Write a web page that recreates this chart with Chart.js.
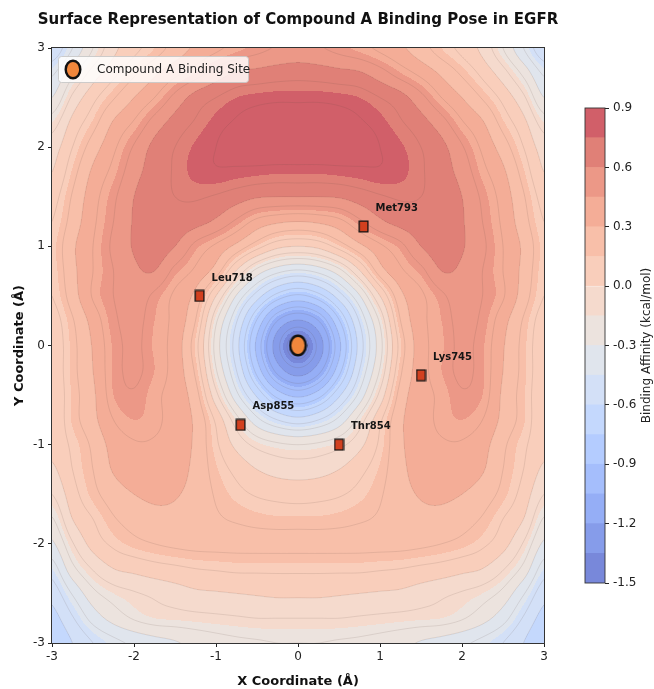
<!DOCTYPE html>
<html><head><meta charset="utf-8">
<script src="https://cdn.jsdelivr.net/npm/chart.js@4.4.1/dist/chart.umd.min.js"></script>
<style>
html,body{margin:0;padding:0;background:#fff;width:654px;height:689px;overflow:hidden}
#main{position:absolute;left:0;top:0;width:596px;height:689px}
#cbar{position:absolute;left:560px;top:0;width:94px;height:689px}
</style></head><body>
<canvas id="main" width="596" height="689"></canvas>
<canvas id="cbar" width="94" height="689"></canvas>
<script>
// ---------------- DATA ----------------
const chartTitle = 'Surface Representation of Compound A Binding Pose in EGFR';
const xAxisTitle = 'X Coordinate (\u00C5)';
const yAxisTitle = 'Y Coordinate (\u00C5)';
const colorbarTitle = 'Binding Affinity (kcal/mol)';
const axisTicks = [-3, -2, -1, 0, 1, 2, 3];
const colorbarTicks = [-1.5, -1.2, -0.9, -0.6, -0.3, 0.0, 0.3, 0.6, 0.9];
const fillLevels = [-1.5,-1.35,-1.2,-1.05,-0.9,-0.75,-0.6,-0.45,-0.3,-0.15,0,0.15,0.3,0.45,0.6,0.75,0.9];
const lineLevels = [-1.4,-1.3,-1.2,-1.1,-1.0,-0.9,-0.8,-0.7,-0.6,-0.5,-0.4,-0.3,-0.2,-0.1,0,0.1,0.2,0.3,0.4,0.5,0.6,0.7,0.8];

// surface samples (kcal/mol) on a 0.25 grid: columns x = -3..3, rows y = 3..-3
const gridX = [-3,-2.75,-2.5,-2.25,-2,-1.75,-1.5,-1.25,-1,-0.75,-0.5,-0.25,0,0.25,0.5,0.75,1,1.25,1.5,1.75,2,2.25,2.5,2.75,3];
const gridY = [3,2.75,2.5,2.25,2,1.75,1.5,1.25,1,0.75,0.5,0.25,0,-0.25,-0.5,-0.75,-1,-1.25,-1.5,-1.75,-2,-2.25,-2.5,-2.75,-3];
const zY300  = [-0.58,-0.40,-0.20,-0.03,0.07,0.15,0.24,0.32,0.38,0.43,0.47,0.51,0.53,0.51,0.47,0.43,0.38,0.32,0.24,0.15,0.07,-0.03,-0.20,-0.40,-0.58];
const zY275  = [-0.42,-0.23,-0.06,0.07,0.18,0.28,0.37,0.45,0.54,0.61,0.63,0.65,0.66,0.65,0.63,0.61,0.54,0.45,0.37,0.28,0.18,0.07,-0.06,-0.23,-0.42];
const zY250  = [-0.30,-0.08,0.07,0.19,0.30,0.40,0.53,0.64,0.70,0.75,0.77,0.78,0.78,0.78,0.77,0.75,0.70,0.64,0.53,0.40,0.30,0.19,0.07,-0.08,-0.30];
const zY225  = [-0.15,0.03,0.16,0.31,0.41,0.54,0.64,0.71,0.77,0.81,0.84,0.86,0.86,0.86,0.84,0.81,0.77,0.71,0.64,0.54,0.41,0.31,0.16,0.03,-0.15];
const zY200  = [-0.05,0.10,0.25,0.38,0.51,0.63,0.70,0.76,0.80,0.84,0.86,0.87,0.87,0.87,0.86,0.84,0.80,0.76,0.70,0.63,0.51,0.38,0.25,0.10,-0.05];
const zY175  = [0.00,0.16,0.32,0.43,0.56,0.65,0.71,0.77,0.79,0.78,0.77,0.76,0.76,0.76,0.77,0.78,0.79,0.77,0.71,0.65,0.56,0.43,0.32,0.16,0.00];
const zY150  = [0.06,0.21,0.36,0.48,0.60,0.67,0.70,0.71,0.69,0.65,0.61,0.60,0.60,0.60,0.61,0.65,0.69,0.71,0.70,0.67,0.60,0.48,0.36,0.21,0.06];
const zY125  = [0.10,0.24,0.38,0.50,0.61,0.67,0.67,0.64,0.58,0.48,0.37,0.32,0.30,0.32,0.37,0.48,0.58,0.64,0.67,0.67,0.61,0.50,0.38,0.24,0.10];
const zY100  = [0.13,0.28,0.40,0.52,0.61,0.66,0.60,0.47,0.38,0.27,0.14,0.03,0.00,0.03,0.14,0.27,0.38,0.47,0.60,0.66,0.61,0.52,0.40,0.28,0.13];
const zY075  = [0.12,0.27,0.40,0.50,0.58,0.60,0.47,0.38,0.25,-0.01,-0.24,-0.37,-0.42,-0.37,-0.24,-0.01,0.25,0.38,0.47,0.60,0.58,0.50,0.40,0.27,0.12];
const zY050  = [0.10,0.25,0.41,0.50,0.55,0.48,0.38,0.27,0.00,-0.31,-0.55,-0.74,-0.82,-0.74,-0.55,-0.31,0.00,0.27,0.38,0.48,0.55,0.50,0.41,0.25,0.10];
const zY025  = [0.05,0.19,0.34,0.48,0.53,0.45,0.37,0.20,-0.18,-0.49,-0.81,-1.10,-1.21,-1.10,-0.81,-0.49,-0.18,0.20,0.37,0.45,0.53,0.48,0.34,0.19,0.05];
const zY000  = [0.03,0.17,0.31,0.46,0.52,0.44,0.36,0.14,-0.24,-0.56,-0.93,-1.27,-1.48,-1.27,-0.93,-0.56,-0.24,0.14,0.36,0.44,0.52,0.46,0.31,0.17,0.03];
const zYm025 = [0.03,0.17,0.30,0.46,0.52,0.45,0.36,0.18,-0.19,-0.50,-0.84,-1.14,-1.27,-1.14,-0.84,-0.50,-0.19,0.18,0.36,0.45,0.52,0.46,0.30,0.17,0.03];
const zYm050 = [0.02,0.16,0.28,0.45,0.49,0.42,0.36,0.24,-0.07,-0.37,-0.62,-0.84,-0.93,-0.84,-0.62,-0.37,-0.07,0.24,0.36,0.42,0.49,0.45,0.28,0.16,0.02];
const zYm075 = [0.02,0.16,0.27,0.40,0.45,0.42,0.36,0.28,0.08,-0.16,-0.37,-0.50,-0.56,-0.50,-0.37,-0.16,0.08,0.28,0.36,0.42,0.45,0.40,0.27,0.16,0.02];
const zYm100 = [0.03,0.12,0.22,0.34,0.39,0.39,0.36,0.28,0.12,-0.03,-0.13,-0.18,-0.20,-0.18,-0.13,-0.03,0.12,0.28,0.36,0.39,0.39,0.34,0.22,0.12,0.03];
const zYm125 = [-0.02,0.10,0.20,0.31,0.36,0.37,0.35,0.27,0.16,0.07,0.00,-0.04,-0.05,-0.04,0.00,0.07,0.16,0.27,0.35,0.37,0.36,0.31,0.20,0.10,-0.02];
const zYm150 = [-0.10,0.06,0.17,0.25,0.30,0.32,0.31,0.26,0.19,0.13,0.09,0.07,0.06,0.07,0.09,0.13,0.19,0.26,0.31,0.32,0.30,0.25,0.17,0.06,-0.10];
const zYm175 = [-0.21,0.00,0.10,0.19,0.24,0.27,0.27,0.24,0.21,0.19,0.17,0.16,0.16,0.16,0.17,0.19,0.21,0.24,0.27,0.27,0.24,0.19,0.10,0.00,-0.21];
const zYm200 = [-0.32,-0.11,0.04,0.12,0.17,0.20,0.22,0.23,0.23,0.23,0.23,0.23,0.23,0.23,0.23,0.23,0.23,0.23,0.22,0.20,0.17,0.12,0.04,-0.11,-0.32];
const zYm225 = [-0.45,-0.23,-0.09,0.00,0.03,0.06,0.08,0.10,0.11,0.12,0.12,0.12,0.12,0.12,0.12,0.12,0.11,0.10,0.08,0.06,0.03,0.00,-0.09,-0.23,-0.45];
const zYm250 = [-0.56,-0.39,-0.23,-0.15,-0.11,-0.08,-0.05,-0.02,-0.01,0.00,0.01,0.02,0.02,0.02,0.01,0.00,-0.01,-0.02,-0.05,-0.08,-0.11,-0.15,-0.23,-0.39,-0.56];
const zYm275 = [-0.64,-0.51,-0.36,-0.26,-0.19,-0.15,-0.14,-0.13,-0.12,-0.11,-0.10,-0.10,-0.10,-0.10,-0.10,-0.11,-0.12,-0.13,-0.14,-0.15,-0.19,-0.26,-0.36,-0.51,-0.64];
const zYm300 = [-0.70,-0.60,-0.50,-0.43,-0.38,-0.34,-0.31,-0.27,-0.24,-0.22,-0.21,-0.20,-0.20,-0.20,-0.21,-0.22,-0.24,-0.27,-0.31,-0.34,-0.38,-0.43,-0.50,-0.60,-0.70];
const surfaceRows = [zY300,zY275,zY250,zY225,zY200,zY175,zY150,zY125,zY100,zY075,zY050,zY025,zY000,
                     zYm025,zYm050,zYm075,zYm100,zYm125,zYm150,zYm175,zYm200,zYm225,zYm250,zYm275,zYm300];

const compoundLabel = 'Compound A Binding Site';
const compoundX = [0];
const compoundY = [0];
const residueNames = ['Leu718', 'Met793', 'Lys745', 'Asp855', 'Thr854'];
const residueX = [-1.2, 0.8, 1.5, -0.7, 0.5];
const residueY = [0.5, 1.2, -0.3, -0.8, -1.0];

// ---------------- helpers ----------------
const FONT = "'DejaVu Sans', 'Liberation Sans', sans-serif";
const coolwarm = [
  [0.0,59,76,192],[0.0625,77,104,216],[0.125,97,130,235],[0.1875,118,154,249],[0.25,141,176,254],
  [0.3125,162,193,255],[0.375,184,208,249],[0.4375,204,217,238],[0.5,221,221,221],[0.5625,236,211,197],
  [0.625,245,196,173],[0.6875,247,177,149],[0.75,244,154,123],[0.8125,236,127,99],[0.875,222,96,77],
  [0.9375,203,62,56],[1.0,180,4,38]];
function cmap(t){
  t = Math.max(0, Math.min(1, t));
  for (let k = 0; k < coolwarm.length - 1; k++){
    const a = coolwarm[k], b = coolwarm[k+1];
    if (t <= b[0]){
      const f = (t - a[0]) / (b[0] - a[0]);
      return [a[1]+(b[1]-a[1])*f, a[2]+(b[2]-a[2])*f, a[3]+(b[3]-a[3])*f];
    }
  }
  return coolwarm[coolwarm.length-1].slice(1);
}
const ALPHA = 0.72;
const vmin = fillLevels[0], vmax = fillLevels[fillLevels.length-1];
const bandRGB = [];
for (let k = 0; k < fillLevels.length - 1; k++){
  const mid = (fillLevels[k] + fillLevels[k+1]) / 2;
  const c = cmap((mid - vmin) / (vmax - vmin));
  bandRGB.push(c.map(v => Math.round(255 + ALPHA * (v - 255))));
}
const bandCSS = bandRGB.map(c => `rgb(${c[0]},${c[1]},${c[2]})`);

function cr(p0,p1,p2,p3,t){
  return p1 + 0.5*t*(p2 - p0 + t*(2*p0 - 5*p1 + 4*p2 - p3 + t*(3*(p1 - p2) + p3 - p0)));
}
function surfaceAt(x, y){
  const nx = gridX.length, ny = gridY.length;
  const fx = (x - gridX[0]) / (gridX[1] - gridX[0]);
  const fy = (y - gridY[0]) / (gridY[1] - gridY[0]);
  const i = Math.max(0, Math.min(nx - 2, Math.floor(fx)));
  const j = Math.max(0, Math.min(ny - 2, Math.floor(fy)));
  const tx = fx - i, ty = fy - j;
  const g = (r, c) => surfaceRows[Math.max(0, Math.min(ny-1, r))][Math.max(0, Math.min(nx-1, c))];
  const rv = [];
  for (let r = -1; r <= 2; r++) rv.push(cr(g(j+r,i-1), g(j+r,i), g(j+r,i+1), g(j+r,i+2), tx));
  return cr(rv[0], rv[1], rv[2], rv[3], ty);
}

function markerCanvas(w, h, fill, lw, shape){
  const c = document.createElement('canvas');
  c.width = w; c.height = h;
  const x = c.getContext('2d');
  x.fillStyle = fill; x.strokeStyle = '#111'; x.lineWidth = lw;
  x.beginPath();
  if (shape === 'ellipse') x.ellipse(w/2, h/2, w/2 - lw/2 - 0.5, h/2 - lw/2 - 0.5, 0, 0, Math.PI*2);
  else x.rect(lw/2 + 0.5, lw/2 + 0.5, w - lw - 1, h - lw - 1);
  x.fill(); x.stroke();
  return c;
}
const compoundMarker = markerCanvas(19, 23, '#f0873c', 2.4, 'ellipse');
const legendMarker = markerCanvas(18, 21, '#f0873c', 2.4, 'ellipse');
const residueMarker = markerCanvas(11, 13, '#d2401f', 1.3, 'rect');

function fmtTick(v){
  const s = Number.isInteger(v) ? String(Math.abs(v)) : Math.abs(v).toFixed(1);
  return v < 0 ? '-' + s : s;
}
function fmtTick1(v){
  const s = Math.abs(v).toFixed(1);
  return v < -1e-9 ? '-' + s : s;
}

// ---------------- plugins ----------------
const fieldPlugin = {
  id: 'surfaceField',
  beforeDatasetsDraw(chart){
    const {ctx, chartArea: a, scales} = chart;
    const xs = scales.x, ys = scales.y;
    const L = Math.round(a.left), T = Math.round(a.top);
    const W = Math.round(a.right) - L, H = Math.round(a.bottom) - T;
    const off = document.createElement('canvas');
    off.width = W; off.height = H;
    const octx = off.getContext('2d');
    const img = octx.createImageData(W, H);
    const nb = fillLevels.length - 1;
    for (let py = 0; py < H; py++){
      const yv = ys.getValueForPixel(T + py + 0.5);
      for (let px = 0; px < W; px++){
        const xv = xs.getValueForPixel(L + px + 0.5);
        const v = surfaceAt(xv, yv);
        let k = Math.floor((v - vmin) / (vmax - vmin) * nb);
        k = Math.max(0, Math.min(nb - 1, k));
        const c = bandRGB[k], o = (py * W + px) * 4;
        img.data[o] = c[0]; img.data[o+1] = c[1]; img.data[o+2] = c[2]; img.data[o+3] = 255;
      }
    }
    octx.putImageData(img, 0, 0);
    ctx.drawImage(off, L, T);

    // thin contour lines (marching squares)
    const s = 2;
    const nx = Math.ceil(W / s) + 1, ny = Math.ceil(H / s) + 1;
    const vals = new Float32Array(nx * ny);
    for (let j = 0; j < ny; j++){
      const yv = ys.getValueForPixel(T + j * s);
      for (let i = 0; i < nx; i++) vals[j*nx + i] = surfaceAt(xs.getValueForPixel(L + i * s), yv);
    }
    ctx.save();
    ctx.beginPath(); ctx.rect(L, T, W, H); ctx.clip();
    ctx.strokeStyle = 'rgba(90,70,60,0.22)';
    ctx.lineWidth = 0.6;
    ctx.beginPath();
    for (const lev of lineLevels){
      for (let j = 0; j < ny - 1; j++){
        for (let i = 0; i < nx - 1; i++){
          const v0 = vals[j*nx+i], v1 = vals[j*nx+i+1], v2 = vals[(j+1)*nx+i+1], v3 = vals[(j+1)*nx+i];
          const pts = [];
          const x0 = L + i*s, y0 = T + j*s;
          if ((v0 < lev) !== (v1 < lev)) pts.push([x0 + s*(lev - v0)/(v1 - v0), y0]);
          if ((v1 < lev) !== (v2 < lev)) pts.push([x0 + s, y0 + s*(lev - v1)/(v2 - v1)]);
          if ((v3 < lev) !== (v2 < lev)) pts.push([x0 + s*(lev - v3)/(v2 - v3), y0 + s]);
          if ((v0 < lev) !== (v3 < lev)) pts.push([x0, y0 + s*(lev - v0)/(v3 - v0)]);
          for (let p = 0; p + 1 < pts.length; p += 2){
            ctx.moveTo(pts[p][0], pts[p][1]); ctx.lineTo(pts[p+1][0], pts[p+1][1]);
          }
        }
      }
    }
    ctx.stroke();
    ctx.restore();
  },
  afterDatasetsDraw(chart){
    const {ctx, chartArea: a, scales} = chart;
    ctx.save();
    // frame
    ctx.strokeStyle = '#333'; ctx.lineWidth = 1;
    ctx.strokeRect(Math.round(a.left) - 0.5, Math.round(a.top) - 0.5, Math.round(a.right - a.left) + 1, Math.round(a.bottom - a.top) + 1);
    // residue labels
    ctx.fillStyle = '#151515';
    ctx.font = `bold 10px ${FONT}`;
    ctx.textAlign = 'left'; ctx.textBaseline = 'middle';
    residueNames.forEach((n, i) => {
      const px = scales.x.getPixelForValue(residueX[i]);
      const py = scales.y.getPixelForValue(residueY[i]);
      ctx.fillText(n, px + 12, py - 18);
    });
    // legend
    const bx = 58.5, by = 56.5, bw = 190, bh = 26;
    ctx.fillStyle = 'rgba(255,255,255,0.82)';
    ctx.strokeStyle = 'rgba(200,200,200,0.9)'; ctx.lineWidth = 1;
    ctx.beginPath();
    if (ctx.roundRect) ctx.roundRect(bx, by, bw, bh, 3); else ctx.rect(bx, by, bw, bh);
    ctx.fill(); ctx.stroke();
    ctx.drawImage(legendMarker, 73 - legendMarker.width/2, 69.5 - legendMarker.height/2);
    ctx.fillStyle = '#222';
    ctx.font = `12px ${FONT}`;
    ctx.fillText(compoundLabel, 97, 70);
    // title, centred over the plot area
    ctx.fillStyle = '#111';
    ctx.font = `bold 15px ${FONT}`;
    ctx.textAlign = 'center';
    ctx.fillText(chartTitle, (a.left + a.right) / 2, 20);
    ctx.restore();
  }
};

const cbarPlugin = {
  id: 'cbarDecor',
  afterDraw(chart){
    const {ctx, chartArea: a} = chart;
    ctx.save();
    ctx.strokeStyle = '#333'; ctx.lineWidth = 0.9;
    ctx.strokeRect(a.left, a.top, a.right - a.left, a.bottom - a.top);
    ctx.translate(87, (a.top + a.bottom) / 2);
    ctx.rotate(-Math.PI / 2);
    ctx.fillStyle = '#222';
    ctx.font = `12px ${FONT}`;
    ctx.textAlign = 'center'; ctx.textBaseline = 'middle';
    ctx.fillText(colorbarTitle, 0, 0);
    ctx.restore();
  }
};

// ---------------- main chart ----------------
const tickFont = {family: FONT, size: 12};
new Chart(document.getElementById('main'), {
  type: 'scatter',
  data: {
    datasets: [
      {label: compoundLabel, data: compoundX.map((x, i) => ({x, y: compoundY[i]})), pointStyle: compoundMarker, pointRadius: 10},
      {label: 'Residues', data: residueX.map((x, i) => ({x, y: residueY[i]})), pointStyle: residueMarker, pointRadius: 7}
    ]
  },
  options: {
    responsive: false, animation: false, devicePixelRatio: 1,
    layout: {padding: {left: 0, right: 52, top: 48, bottom: 0}},
    plugins: {legend: {display: false}, tooltip: {enabled: false}, title: {display: false}},
    scales: {
      x: {
        type: 'linear', min: -3, max: 3,
        afterBuildTicks: s => { s.ticks = axisTicks.map(v => ({value: v})); },
        afterFit: s => { s.height = 46; },
        ticks: {callback: v => fmtTick(v), font: tickFont, color: '#222', padding: 3, maxRotation: 0},
        grid: {drawOnChartArea: false, tickLength: 4, color: '#222'},
        border: {display: false},
        title: {display: true, text: xAxisTitle, color: '#111', font: {family: FONT, size: 13, weight: 'bold'}, padding: {top: 0, bottom: 0}}
      },
      y: {
        type: 'linear', min: -3, max: 3,
        afterBuildTicks: s => { s.ticks = axisTicks.map(v => ({value: v})); },
        afterFit: s => { s.width = 52; },
        ticks: {callback: v => fmtTick(v), font: tickFont, color: '#222', padding: 3},
        grid: {drawOnChartArea: false, tickLength: 4, color: '#222'},
        border: {display: false},
        title: {display: true, text: yAxisTitle, color: '#111', font: {family: FONT, size: 13, weight: 'bold'}, padding: {top: 12, bottom: 0}}
      }
    }
  },
  plugins: [fieldPlugin]
});

// ---------------- colorbar chart ----------------
new Chart(document.getElementById('cbar'), {
  type: 'bar',
  data: {
    labels: [''],
    datasets: bandCSS.map((col, k) => ({
      data: [[fillLevels[k], fillLevels[k+1]]],
      backgroundColor: col, borderWidth: 0,
      barPercentage: 1, categoryPercentage: 1, grouped: false
    }))
  },
  options: {
    responsive: false, animation: false, devicePixelRatio: 1,
    layout: {padding: {left: 25, right: 0, top: 108, bottom: 106}},
    plugins: {legend: {display: false}, tooltip: {enabled: false}},
    scales: {
      x: {display: false},
      y: {
        position: 'right', min: vmin, max: vmax,
        afterBuildTicks: s => { s.ticks = colorbarTicks.map(v => ({value: v})); },
        afterFit: s => { s.width = 49; },
        ticks: {callback: v => fmtTick1(v), font: tickFont, color: '#222', padding: 4},
        grid: {drawOnChartArea: false, tickLength: 4, color: '#222'},
        border: {display: false}
      }
    }
  },
  plugins: [cbarPlugin]
});
</script>
</body></html>
